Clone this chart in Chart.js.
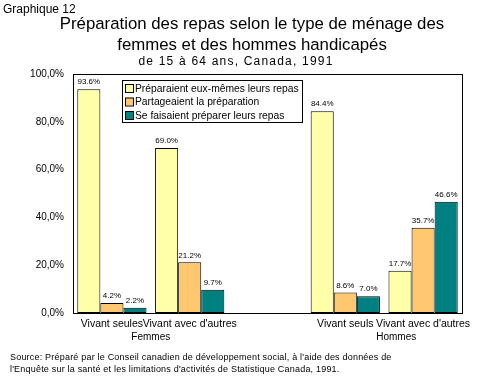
<!DOCTYPE html>
<html><head><meta charset="utf-8">
<script src="https://cdn.jsdelivr.net/npm/chart.js@4/dist/chart.umd.min.js"></script>
<style>html,body{margin:0;padding:0;background:#fff;}#wrap{position:relative;width:478px;height:376px;}</style>
</head><body><div id="wrap"><canvas id="c" width="478" height="376"></canvas></div>
<script>
const categories = ["Vivant seules", "Vivant avec d'autres", "", "Vivant seuls", "Vivant avec d'autres"];
const groups = ["Femmes", "Hommes"];
const seriesNames = ["Préparaient eux-mêmes leurs repas", "Partageaient la préparation", "Se faisaient préparer leurs repas"];
const prepSelf = [93.6, 69.0, null, 84.4, 17.7];
const prepShared = [4.2, 21.2, null, 8.6, 35.7];
const prepOthers = [2.2, 9.7, null, 7.0, 46.6];
const yTicks = [0, 20, 40, 60, 80, 100];
const titleLines = ["Préparation des repas selon le type de ménage des", "femmes et des hommes handicapés"];
const subTitle = "de 15 à 64 ans, Canada, 1991";
const chartLabel = "Graphique 12";
const sourceLines = ["Source: Préparé par le Conseil canadien de développement social, à l'aide des données de", "l'Enquête sur la santé et les limitations d'activités de Statistique Canada, 1991."];

const colors = ["#FFFFAA", "#FFC870", "#008080"];
const FONT = "'Liberation Sans', Arial, sans-serif";

const textPlugin = {
  id: 'texts',
  afterDraw(chart) {
    const ctx = chart.ctx, a = chart.chartArea;
    ctx.save();
    // plot border
    ctx.strokeStyle = '#000'; ctx.lineWidth = 1;
    ctx.strokeRect(Math.round(a.left) + 0.5, Math.round(a.top) + 0.5, Math.round(a.right - a.left), Math.round(a.bottom - a.top));
    ctx.fillStyle = '#000';
    // header
    ctx.textAlign = 'left'; ctx.textBaseline = 'alphabetic';
    ctx.font = '12px ' + FONT;
    ctx.fillText(chartLabel, 3, 13);
    ctx.textAlign = 'center';
    ctx.font = '16.8px ' + FONT;
    ctx.fillText(titleLines[0], 252, 29);
    ctx.fillText(titleLines[1], 252, 50);
    ctx.font = '12px ' + FONT;
    ctx.letterSpacing = '1.2px';
    ctx.fillText(subTitle, 236, 65);
    ctx.letterSpacing = '0px';
    // bar value labels
    ctx.font = '8px ' + FONT;
    ctx.textBaseline = 'bottom';
    chart.data.datasets.forEach((ds, di) => {
      const meta = chart.getDatasetMeta(di);
      meta.data.forEach((el, i) => {
        const v = ds.data[i];
        if (v == null) return;
        ctx.fillText(v.toFixed(1) + '%', el.x, el.y - 3);
      });
    });
    // group labels
    const xs = chart.scales.x;
    ctx.font = '10px ' + FONT;
    ctx.textBaseline = 'alphabetic';
    ctx.fillText(groups[0], (xs.getPixelForValue(0) + xs.getPixelForValue(1)) / 2, 340);
    ctx.fillText(groups[1], (xs.getPixelForValue(3) + xs.getPixelForValue(4)) / 2 + 12, 340);
    // source
    ctx.textAlign = 'left';
    ctx.font = '9px ' + FONT;
    ctx.letterSpacing = '0.2px';
    ctx.fillText(sourceLines[0], 10, 360);
    ctx.fillText(sourceLines[1], 10, 372);
    ctx.letterSpacing = '0px';
    // legend
    const lx = 122, ly = 80, lw = 180, lh = 42;
    ctx.fillStyle = '#fff';
    ctx.fillRect(lx, ly, lw, lh);
    ctx.strokeRect(lx + 0.5, ly + 0.5, lw, lh);
    ctx.font = '10.3px ' + FONT;
    ctx.textBaseline = 'middle';
    const rowsY = [88, 101.5, 115];
    chart.data.datasets.forEach((ds, di) => {
      ctx.fillStyle = ds.backgroundColor;
      ctx.fillRect(125, rowsY[di] - 4, 8, 8);
      ctx.strokeStyle = '#000';
      ctx.strokeRect(125.5, rowsY[di] - 4 + 0.5, 8, 8);
      ctx.fillStyle = '#000';
      ctx.fillText(ds.label, 135, rowsY[di] + 1);
    });
    ctx.restore();
  }
};

new Chart(document.getElementById('c'), {
  type: 'bar',
  data: {
    labels: categories,
    datasets: [
      { label: seriesNames[0], data: prepSelf, backgroundColor: colors[0] },
      { label: seriesNames[1], data: prepShared, backgroundColor: colors[1] },
      { label: seriesNames[2], data: prepOthers, backgroundColor: colors[2] }
    ].map(d => Object.assign(d, { borderColor: '#000', borderWidth: 1, borderSkipped: false, categoryPercentage: 0.89, barPercentage: 1 }))
  },
  options: {
    responsive: false,
    animation: false,
    events: [],
    layout: { padding: { left: 0, top: 74, right: 16, bottom: 0 } },
    plugins: { legend: { display: false }, title: { display: false }, tooltip: { enabled: false } },
    scales: {
      x: {
        grid: { display: false, drawTicks: false },
        border: { display: false },
        ticks: { autoSkip: false, maxRotation: 0, minRotation: 0, color: '#000', padding: 5, font: { family: FONT, size: 10.5 } },
        afterFit(s) { s.height = 63; }
      },
      y: {
        min: 0, max: 100,
        afterBuildTicks(s) { s.ticks = yTicks.map(v => ({ value: v })); },
        grid: { display: false, drawTicks: false },
        border: { display: false },
        ticks: { color: '#000', padding: 9, font: { family: FONT, size: 10 }, callback: v => v.toFixed(1).replace('.', ',') + '%' },
        afterFit(s) { s.width = 73; }
      }
    }
  },
  plugins: [textPlugin]
});
</script></body></html>
